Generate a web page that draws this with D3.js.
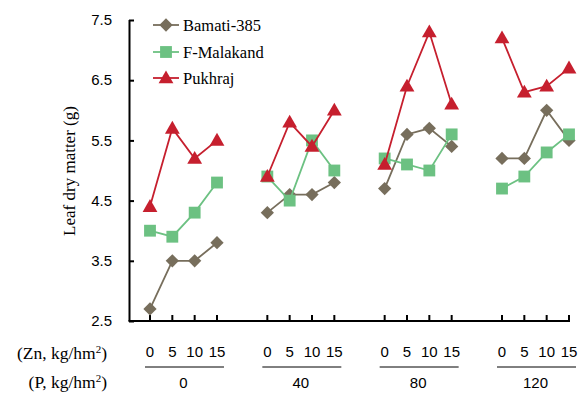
<!DOCTYPE html>
<html>
<head>
<meta charset="utf-8">
<script src="https://cdn.jsdelivr.net/npm/d3@7/dist/d3.min.js"></script>
<style>
  html, body { margin: 0; padding: 0; background: #fff; }
  svg { display: block; }
  .serif { font-family: "Liberation Serif", "Times New Roman", Times, serif; }
  .sans { font-family: "Liberation Sans", Arial, Helvetica, sans-serif; }
</style>
</head>
<body>
<svg id="chart" width="581" height="393"></svg>
<script>
// ---- data ----
const pLevels = ["0", "40", "80", "120"];          // P, kg/hm2 (groups)
const znLevels = ["0", "5", "10", "15"];           // Zn, kg/hm2 (within group)
const yTicks = [2.5, 3.5, 4.5, 5.5, 6.5, 7.5];
const seriesNames = ["Bamati-385", "F-Malakand", "Pukhraj"];
const bamati = [
  [2.7, 3.5, 3.5, 3.8],
  [4.3, 4.6, 4.6, 4.8],
  [4.7, 5.6, 5.7, 5.4],
  [5.2, 5.2, 6.0, 5.5]
];
const malakand = [
  [4.0, 3.9, 4.3, 4.8],
  [4.9, 4.5, 5.5, 5.0],
  [5.2, 5.1, 5.0, 5.6],
  [4.7, 4.9, 5.3, 5.6]
];
const pukhraj = [
  [4.4, 5.7, 5.2, 5.5],
  [4.9, 5.8, 5.4, 6.0],
  [5.1, 6.4, 7.3, 6.1],
  [7.2, 6.3, 6.4, 6.7]
];

// ---- styles ----
const colors = ["#776e5c", "#6cc182", "#c61f2e"];
const shapes = [d3.symbolSquare, d3.symbolSquare, d3.symbolTriangle];
const rotations = [45, 0, 0];
const sizes = [88, 140, 95];

const svg = d3.select("#chart");

const axisX = 129, axisTop = 20, axisBottom = 321, axisRight = 569;

const y = d3.scaleLinear().domain([2.5, 7.5]).range([axisBottom, axisTop]);
const groupScale = d3.scaleBand().domain(pLevels).range([150, axisRight])
  .paddingInner(0.429).paddingOuter(0);
const znScale = d3.scalePoint().domain(znLevels).range([0, groupScale.bandwidth()]);
const xPos = (g, z) => groupScale(g) + znScale(z);

// y axis
const yAxis = d3.axisRight(y).tickValues(yTicks).tickSize(5).tickFormat("");
const yG = svg.append("g").attr("transform", `translate(${axisX},0)`).call(yAxis);
yG.select(".domain").attr("d", `M0.5,${axisTop}H0.5V${axisBottom}`);
yG.selectAll("path, line").attr("stroke", "#000").attr("stroke-width", 2);

// y tick labels
svg.append("g").selectAll("text").data(yTicks).join("text")
  .attr("class", "sans")
  .attr("x", 112).attr("y", d => y(d)).attr("dy", "0.35em")
  .attr("text-anchor", "end")
  .style("font-size", "15px").attr("fill", "#000")
  .text(d => d.toFixed(1));

// x axis line and ticks
svg.append("line").attr("x1", axisX - 0.5).attr("x2", axisRight + 1)
  .attr("y1", axisBottom).attr("y2", axisBottom)
  .attr("stroke", "#000").attr("stroke-width", 2);
const tickData = [];
pLevels.forEach(g => znLevels.forEach(z => tickData.push({ g, z })));
svg.append("g").selectAll("line").data(tickData).join("line")
  .attr("x1", d => xPos(d.g, d.z)).attr("x2", d => xPos(d.g, d.z))
  .attr("y1", axisBottom).attr("y2", axisBottom - 6)
  .attr("stroke", "#000").attr("stroke-width", 2);

// Zn labels
svg.append("g").selectAll("text").data(tickData).join("text")
  .attr("class", "sans")
  .attr("x", d => xPos(d.g, d.z)).attr("y", 357)
  .attr("text-anchor", "middle")
  .style("font-size", "15px").attr("fill", "#000")
  .text(d => d.z);

// group underlines
svg.append("g").selectAll("line").data(pLevels).join("line")
  .attr("x1", d => groupScale(d) - 5).attr("x2", d => groupScale(d) + groupScale.bandwidth() + 7)
  .attr("y1", 367).attr("y2", 367)
  .attr("stroke", "#000").attr("stroke-width", 1);

// P labels
svg.append("g").selectAll("text").data(pLevels).join("text")
  .attr("class", "sans")
  .attr("x", d => groupScale(d) + groupScale.bandwidth() / 2).attr("y", 388)
  .attr("text-anchor", "middle")
  .style("font-size", "15px").attr("fill", "#000")
  .text(d => d);

// left row labels
function rowLabel(txt, yy) {
  const t = svg.append("text").attr("class", "serif")
    .attr("x", 107).attr("y", yy).attr("text-anchor", "end")
    .style("font-size", "17.5px").attr("fill", "#000");
  t.append("tspan").text(txt);
  t.append("tspan").attr("dy", "-6").style("font-size", "11px").text("2");
  t.append("tspan").attr("dy", "6").text(")");
}
rowLabel("(Zn, kg/hm", 359);
rowLabel("(P, kg/hm", 388);

// y axis title
svg.append("text").attr("class", "serif")
  .attr("transform", "translate(75,171) rotate(-90)")
  .attr("text-anchor", "middle")
  .style("font-size", "17px").attr("fill", "#000")
  .text("Leaf dry matter (g)");

// series
const allSeries = [bamati, malakand, pukhraj];
const line = d3.line().x(d => d.x).y(d => y(d.v));
allSeries.forEach((ser, si) => {
  const g = svg.append("g");
  ser.forEach((vals, gi) => {
    const pts = vals.map((v, zi) => ({ x: xPos(pLevels[gi], znLevels[zi]), v }));
    g.append("path").datum(pts).attr("d", line)
      .attr("fill", "none").attr("stroke", colors[si]).attr("stroke-width", 1.8);
    g.selectAll(null).data(pts).join("path")
      .attr("transform", d => `translate(${d.x},${y(d.v) + (si === 2 ? 1 : 0)}) rotate(${rotations[si]})`)
      .attr("d", d3.symbol().type(shapes[si]).size(sizes[si]))
      .attr("fill", colors[si]);
  });
});

// legend
const legY = [25, 52, 78];
seriesNames.forEach((name, si) => {
  const lg = svg.append("g");
  lg.append("line").attr("x1", 153).attr("x2", 179).attr("y1", legY[si]).attr("y2", legY[si])
    .attr("stroke", colors[si]).attr("stroke-width", 1.8);
  lg.append("path").attr("transform", `translate(166,${legY[si] + (si === 2 ? 1 : 0)}) rotate(${rotations[si]})`)
    .attr("d", d3.symbol().type(shapes[si]).size(sizes[si]))
    .attr("fill", colors[si]);
  lg.append("text").attr("class", "serif")
    .attr("x", 183).attr("y", legY[si]).attr("dy", "0.35em")
    .style("font-size", "16.5px").attr("fill", "#000")
    .text(name);
});
</script>
</body>
</html>
